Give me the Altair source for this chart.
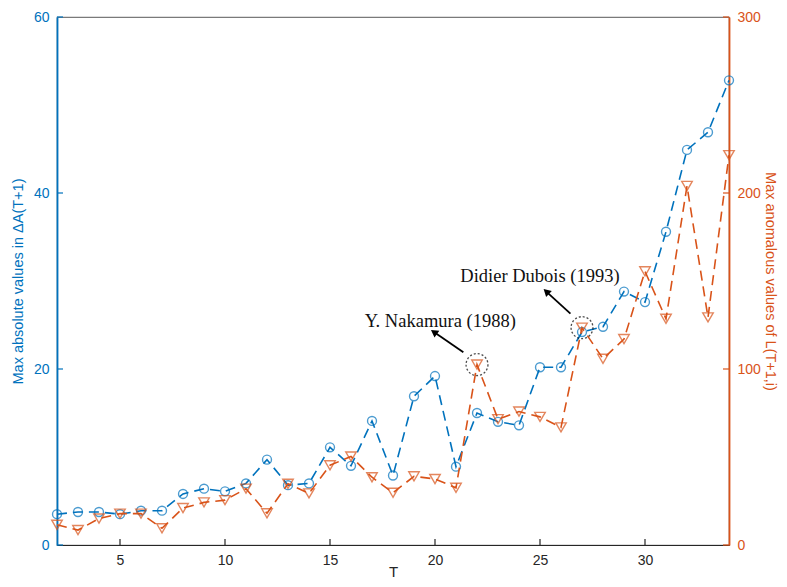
import altair as alt
import pandas as pd

T = list(range(2, 35))
max_abs_dA = [3.5, 3.75, 3.75, 3.5, 3.9, 3.9, 5.8, 6.4, 6.1, 7.0, 9.7, 6.8, 7.0, 11.1, 9.0, 14.1, 7.9,
              16.9, 19.2, 8.9, 15.0, 14.0, 13.6, 20.2, 20.2, 24.2, 24.8, 28.8, 27.6, 35.6, 44.9, 46.9, 52.8]
max_anom_L = [11.5, 8.5, 15, 17.8, 17.8, 9.5, 21, 24.2, 25.5, 32, 18, 34.8, 29.3, 45.3, 50.3, 38.5, 29.7,
              39, 37.5, 32.5, 102.5, 71.5, 75.8, 72.8, 66.8, 123.5, 105.8, 117, 155.5, 128.5, 204, 129.3, 221.5]

x_ticks = [5, 10, 15, 20, 25, 30]
left_ticks = [0, 20, 40, 60]
right_ticks = [0, 100, 200, 300]

# annotations (in T / right-axis units)
ann_text = ["Y. Nakamura (1988)", "Didier Dubois (1993)"]
ann_tx = [20.25, 25.0]
ann_ty = [127.5, 153.0]
ann_cx = [22, 27]
ann_cy = [102.5, 123.5]
arr_x0 = [21.35, 26.45]
arr_y0 = [109.5, 131.5]
arr_x1 = [19.95, 25.3]
arr_y1 = [121.0, 144.0]
arr_angle = [305, 313]

BLUE = "#0072BD"
ORANGE = "#D95319"
DARK = "#262626"
W, H = 672, 528

df = pd.DataFrame({"T": T, "A": max_abs_dA, "L": max_anom_L})
ann = pd.DataFrame({"text": ann_text, "tx": ann_tx, "ty": ann_ty, "cx": ann_cx, "cy": ann_cy,
                    "x0": arr_x0, "y0": arr_y0, "x1": arr_x1, "y1": arr_y1, "ang": arr_angle})

xscale = alt.Scale(domain=[2, 34], nice=False, zero=False)
xaxis = alt.Axis(values=x_ticks, title="T", tickSize=0, labelPadding=8, labelFontSize=14,
                 labelColor=DARK, titleFontSize=15, titleFontWeight="normal", titleColor=DARK,
                 titlePadding=-3, domainColor=DARK, domainWidth=1.2, grid=False,
                 labelFont="Liberation Sans", titleFont="Liberation Sans")

def X(field="T"):
    return alt.X(field, type="quantitative", scale=xscale, axis=xaxis)

yA = alt.Scale(domain=[0, 60], nice=False)
yL = alt.Scale(domain=[0, 300], nice=False)
yA_axis = alt.Axis(values=left_ticks, title="Max absolute values in ΔA(T+1)", orient="left",
                   tickSize=0, labelPadding=8, labelFontSize=14, labelColor=BLUE,
                   titleColor=BLUE, titleFontSize=14.5, titleFontWeight="normal", titlePadding=8,
                   domainColor=BLUE, domainWidth=1.8, grid=False,
                   labelFont="Liberation Sans", titleFont="Liberation Sans")
yL_axis = alt.Axis(values=right_ticks, title="Max anomalous values of L(T+1,i)", orient="right",
                   tickSize=0, labelPadding=8, labelFontSize=14, labelColor=ORANGE,
                   titleColor=ORANGE, titleFontSize=14.5, titleFontWeight="normal", titlePadding=2,
                   domainColor=ORANGE, domainWidth=1.8, grid=False,
                   labelFont="Liberation Sans", titleFont="Liberation Sans")

base = alt.Chart(df)
blue_line = base.mark_line(color=BLUE, strokeWidth=1.6, strokeDash=[10, 6]).encode(
    x=X(), y=alt.Y("A:Q", scale=yA, axis=yA_axis))
blue_pts = base.mark_point(shape="circle", filled=False, color=BLUE, size=80, strokeWidth=1.4).encode(
    x=X(), y=alt.Y("A:Q", scale=yA, axis=yA_axis))
lt = alt.Chart(pd.DataFrame({"v": left_ticks})).mark_rule(color=BLUE, strokeWidth=1.2).encode(
    y=alt.Y("v:Q", scale=yA, axis=yA_axis), x=alt.value(0), x2=alt.value(6))
bt = alt.Chart(pd.DataFrame({"T": x_ticks})).mark_rule(color=DARK, strokeWidth=1.2).encode(
    x=X(), y=alt.value(H), y2=alt.value(H - 6))
blue_layer = alt.layer(blue_line, blue_pts, lt, bt)

red_line = base.mark_line(color=ORANGE, strokeWidth=1.6, strokeDash=[10, 6]).encode(
    x=X(), y=alt.Y("L:Q", scale=yL, axis=yL_axis))
red_pts = base.mark_point(shape="triangle-down", filled=False, color=ORANGE, size=110, strokeWidth=1.4).encode(
    x=X(), y=alt.Y("L:Q", scale=yL, axis=yL_axis))
rt = alt.Chart(pd.DataFrame({"v": right_ticks})).mark_rule(color=ORANGE, strokeWidth=1.2).encode(
    y=alt.Y("v:Q", scale=yL, axis=yL_axis), x=alt.value(W), x2=alt.value(W - 6))

a = alt.Chart(ann)
circ = a.mark_point(shape="circle", filled=False, color="black", size=480, strokeWidth=1.3,
                    strokeDash=[2, 2]).encode(x=X("cx"), y=alt.Y("cy:Q", scale=yL, axis=yL_axis))
arr = a.mark_rule(color="black", strokeWidth=1.8).encode(
    x=X("x0"), y=alt.Y("y0:Q", scale=yL, axis=yL_axis), x2="x1:Q", y2="y1:Q")
head = a.mark_point(shape="triangle-up", filled=True, color="black", size=70, opacity=1).encode(
    x=X("x1"), y=alt.Y("y1:Q", scale=yL, axis=yL_axis), angle=alt.Angle("ang:Q", scale=None))
txt = a.mark_text(font="Liberation Serif", fontSize=18.5, color="#111111", align="center",
                  baseline="middle").encode(
    x=X("tx"), y=alt.Y("ty:Q", scale=yL, axis=yL_axis), text="text:N")
red_layer = alt.layer(red_line, red_pts, rt, circ, arr, head, txt)

chart = alt.layer(blue_layer, red_layer).resolve_scale(y="independent").properties(
    width=W, height=H,
    autosize=alt.AutoSizeParams(type="none"),
    padding={"left": 49, "top": 9, "right": 50, "bottom": 34},
).configure_view(stroke="#7a7a7a", strokeWidth=1.2)

chart.save("out.html", embed_options={"renderer": "svg", "actions": False})
